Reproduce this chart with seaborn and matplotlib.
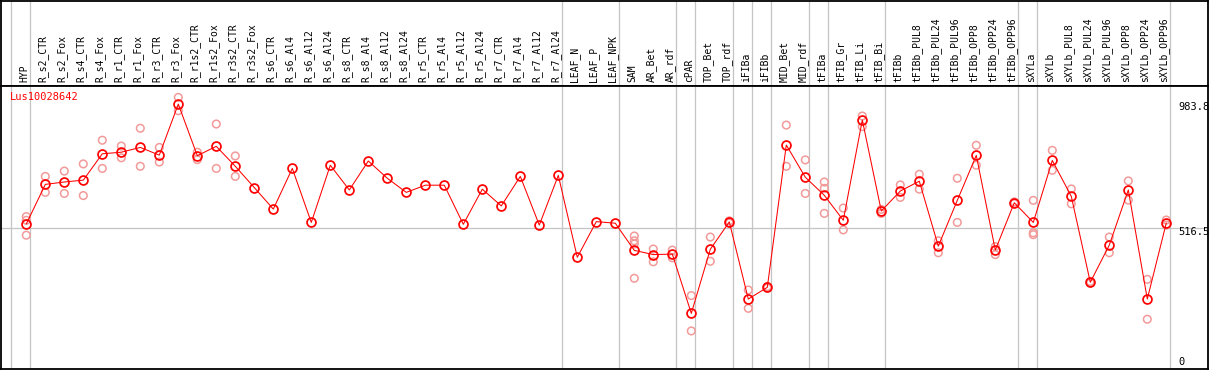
import matplotlib
matplotlib.use("Agg")
import matplotlib.pyplot as plt
import numpy as np
import pandas as pd
import seaborn as sns

samples = [
    "HYP", "R_s2_CTR", "R_s2_Fox", "R_s4_CTR", "R_s4_Fox", "R_r1_CTR", "R_r1_Fox",
    "R_r3_CTR", "R_r3_Fox", "R_r1s2_CTR", "R_r1s2_Fox", "R_r3s2_CTR", "R_r3s2_Fox",
    "R_s6_CTR", "R_s6_Al4", "R_s6_Al12", "R_s6_Al24", "R_s8_CTR", "R_s8_Al4",
    "R_s8_Al12", "R_s8_Al24", "R_r5_CTR", "R_r5_Al4", "R_r5_Al12", "R_r5_Al24",
    "R_r7_CTR", "R_r7_Al4", "R_r7_Al12", "R_r7_Al24", "LEAF_N", "LEAF_P", "LEAF_NPK",
    "SAM", "AR_Bet", "AR_rdf", "cPAR", "TOP_Bet", "TOP_rdf", "iFIBa", "iFIBb",
    "MID_Bet", "MID_rdf", "tFIBa", "tFIB_Gr", "tFIB_Li", "tFIB_Bi", "tFIBb",
    "tFIBb_PUL8", "tFIBb_PUL24", "tFIBb_PUL96", "tFIBb_OPP8", "tFIBb_OPP24",
    "tFIBb_OPP96", "sXYLa", "sXYLb", "sXYLb_PUL8", "sXYLb_PUL24", "sXYLb_PUL96",
    "sXYLb_OPP8", "sXYLb_OPP24", "sXYLb_OPP96",
]

means = [
    533, 682, 691, 698, 797, 803, 821, 792, 983.8, 790, 825, 750, 670,
    589, 742, 539, 754, 661, 770, 705, 652, 679, 679, 532, 664,
    601, 712, 529, 716, 408, 542, 536,
    434, 418, 420, 197, 438, 541, 251, 295,
    830, 709, 641, 547, 924, 582, 657,
    694, 450, 622, 791, 435, 613,
    539, 772, 637, 314, 454, 661, 251, 537,
]

replicates = [
    [561, 547, 491], [712, 652], [732, 648], [759, 640], [848, 742], [826, 782],
    [893, 750], [821, 766], [1009, 959], [803, 775], [909, 742], [789, 712],
    [], [], [], [], [], [], [], [], [], [], [], [], [], [], [], [], [], [], [], [],
    [488, 470, 458, 329], [439, 391], [435, 406], [264, 131], [484, 393],
    [545, 537], [285, 216], [298, 292], [905, 750], [774, 648], [691, 667, 573],
    [593, 511], [939, 899], [588, 573], [680, 633], [720, 664], [470, 425],
    [705, 539], [829, 754], [448, 418], [616, 610], [622, 500, 493], [810, 735],
    [665, 609], [317, 311], [484, 425], [695, 623], [325, 175], [548, 529],
]

# samples after which a grey separator is drawn (-1 = left edge)
group_ends = [-1, 0, 28, 31, 34, 35, 37, 38, 39, 41, 42, 45, 52, 53, 60]

gene = "Lus10028642"
y_ticks = [983.8, 516.5, 0]
y_tick_labels = ["983.8", "516.5", "0"]

sns.set_style("white")
plt.rcParams["font.family"] = ["DejaVu Sans Mono", "DejaVu Sans"]
plt.rcParams["font.size"] = 7

df_mean = pd.DataFrame({"pos": np.arange(len(samples)), "value": means})
df_rep = pd.DataFrame(
    [(i, v) for i, reps in enumerate(replicates) for v in reps],
    columns=["pos", "value"],
)

W, H = 1209, 370
fig = plt.figure(figsize=(W / 100, H / 100), dpi=100)
head_bot = 85.7
plot_bot = 369.0
left, right = 1.0, 1208.3
ax_head = fig.add_axes([left / W, (H - head_bot) / H, (right - left) / W, (head_bot - 0.6) / H])
ax = fig.add_axes([left / W, (H - plot_bot) / H, (right - left) / W, (plot_bot - head_bot) / H])

# x: index spacing 19 px, first point at 26.3 px
xmin = (left - 26.3) / 19
xmax = (right - 26.3) / 19
# y: 0.266 px per unit, zero at 365.8 px
ymax = (365.8 - head_bot) / 0.266
ymin = (365.8 - plot_bot) / 0.266

grey = "#c4c4c4"
for a in (ax_head, ax):
    for g in group_ends:
        a.axvline(g + 0.22, color=grey, lw=0.9, zorder=0)
    a.set_xlim(xmin, xmax)
    a.set_xticks([])
    a.set_yticks([])
    for s in a.spines.values():
        s.set_color("black")
        s.set_linewidth(1.3)

ax_head.set_ylim(0, 1)
for i, name in enumerate(samples):
    ax_head.text(i - 0.12, 0.047, name, rotation=90, ha="center", va="bottom",
                 fontsize=7, color="black")

ax.axhline(516.5, color=grey, lw=0.9, zorder=0)

sns.scatterplot(data=df_rep, x="pos", y="value", ax=ax, marker="o", s=30,
                facecolor="none", edgecolor="#f29a9a", linewidth=1.1, zorder=2,
                legend=False)
for coll in ax.collections:
    coll.set_facecolor("none")

sns.lineplot(data=df_mean, x="pos", y="value", ax=ax, color="red", linewidth=0.75,
             marker="o", markersize=6.4, markerfacecolor="none",
             markeredgecolor="red", markeredgewidth=1.25, zorder=3)

ax.set_ylim(ymin, ymax)
ax.set_xlim(xmin, xmax)
ax.set_xlabel("")
ax.set_ylabel("")

label_x = (1178.3 - 26.3) / 19
for val, lbl, dy in zip(y_ticks, y_tick_labels, [-2.6, -4.0, 4.0]):
    ax.annotate(lbl, xy=(label_x, val), xytext=(0, dy), textcoords="offset pixels",
                ha="left", va="center", fontsize=7.5, color="black")

ax.text((10 - 26.3) / 19, (365.8 - 96.7) / 0.266, gene, color="red",
        ha="left", va="center", fontsize=7.5)

fig.savefig("out.png", dpi=100)
